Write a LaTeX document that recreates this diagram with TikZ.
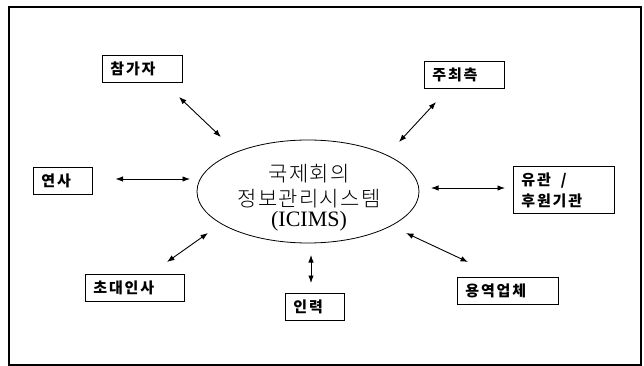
\documentclass[tikz,border=0pt]{standalone}
\usepackage{fontspec}
\setmainfont{Liberation Serif}
\newfontfamily\kr[LetterSpace=12]{Noto Sans CJK KR}
\newfontfamily\krc[LetterSpace=6]{Noto Sans CJK KR Light}
\usetikzlibrary{arrows.meta,shapes.geometric}
\begin{document}
\begin{tikzpicture}[x=1pt,y=-1pt,
  box/.style={draw,line width=0.9pt,rectangle,minimum height=27pt,inner xsep=8pt,font=\kr\bfseries\fontsize{15}{21}\selectfont,anchor=north west,align=left},
  link/.style={line width=0.9pt,{Latex[length=7.5pt,width=5.5pt]}-{Latex[length=7.5pt,width=5.5pt]}}]
\useasboundingbox (0,0) rectangle (644,366);
\draw[line width=1.4pt] (9,7) rectangle (641,365);
\node[draw,ellipse,line width=0.8pt,minimum width=222pt,minimum height=103pt,inner sep=0pt] (c) at (308,191.5) {};
\node[align=center,font=\fontsize{21}{25}\selectfont,inner sep=0pt] (ct) at (309,198) {{\krc 국제회의}\\{\krc 정보관리시스템}\\[-5pt]\fontsize{22}{22}\selectfont(ICIMS)};
\node[box,minimum width=80pt,text width=64pt] (p) at (102,55) {참가자};
\node[box,minimum width=80pt,text width=64pt] (h) at (424,61) {주최측};
\node[box,minimum width=59pt,text width=43pt] (s) at (33,167) {연사};
\node[box,minimum width=101pt,minimum height=47pt,text width=85pt] (u) at (513,166) {유관 \ /\\후원기관};
\node[box,minimum width=99pt,text width=83pt] (i) at (85,274) {초대인사};
\node[box,minimum width=59pt,text width=43pt] (r) at (285,293) {인력};
\node[box,minimum width=101pt,text width=85pt] (y) at (457,277) {용역업체};
\coordinate (p1) at (179,97); \coordinate (p2) at (221,137);
\coordinate (h1) at (436,102); \coordinate (h2) at (399,142);
\coordinate (s1) at (115.5,179); \coordinate (s2) at (190,179);
\coordinate (u1) at (431,188); \coordinate (u2) at (505,188);
\coordinate (i1) at (167,262); \coordinate (i2) at (208,233);
\coordinate (r1) at (311,255); \coordinate (r2) at (311,283);
\coordinate (y1) at (406,233); \coordinate (y2) at (468,262);
\draw[link] (p1) -- (p2);
\draw[link] (h1) -- (h2);
\draw[link] (s1) -- (s2);
\draw[link] (u1) -- (u2);
\draw[link] (i1) -- (i2);
\draw[link] (r1) -- (r2);
\draw[link] (y1) -- (y2);
\end{tikzpicture}
\end{document}
